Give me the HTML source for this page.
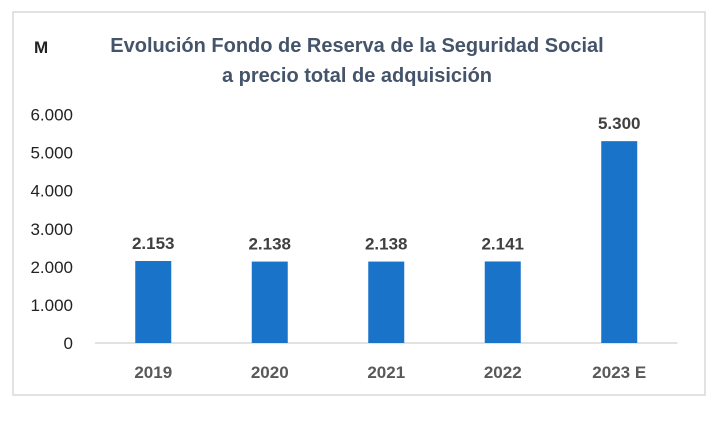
<!DOCTYPE html>
<html><head><meta charset="utf-8"><style>
body{margin:0;background:#fff;width:720px;height:416px;overflow:hidden;font-family:"Liberation Sans",sans-serif}
</style></head><body>
<svg width="720" height="416" xmlns="http://www.w3.org/2000/svg">
<rect x="13" y="12" width="692" height="383" fill="#fff" stroke="#d9d9d9" stroke-width="1.5"/>
<text x="34" y="53" font-size="17" font-weight="bold" fill="#222">M</text>
<text x="357" y="52" text-anchor="middle" font-size="20" font-weight="bold" fill="#44546a">Evolución Fondo de Reserva de la Seguridad Social</text>
<text x="357" y="82" text-anchor="middle" font-size="20" font-weight="bold" fill="#44546a">a precio total de adquisición</text>
<g id="g"></g>
</svg>
<script>
const categories=["2019","2020","2021","2022","2023 E"];
const values=[2153,2138,2138,2141,5300];
const valueLabels=["2.153","2.138","2.138","2.141","5.300"];
const ticks=[0,1000,2000,3000,4000,5000,6000];
const tickLabels=["0","1.000","2.000","3.000","4.000","5.000","6.000"];
const NS="http://www.w3.org/2000/svg",g=document.getElementById('g');
const x0=95,band=116.5,y0=343,yMax=6000,h=228.5;
const y=v=>y0-v/yMax*h, xc=i=>x0+band*(i+0.5);
function mk(t,a,txt){const e=document.createElementNS(NS,t);for(const k in a)e.setAttribute(k,a[k]);if(txt!=null)e.textContent=txt;g.appendChild(e);return e;}
ticks.forEach((t,i)=>{const e=mk('text',{x:73,y:y(t)+6,'text-anchor':'end','font-size':17,fill:'#222'},tickLabels[i]);

});
const ax=mk('line',{x1:x0,x2:x0+band*5,y1:y0,y2:y0,stroke:'#d9d9d9','stroke-width':1.5});


values.forEach((v,i)=>{
const b=mk('rect',{x:xc(i)-18,y:y(v),width:36,height:y0-y(v),fill:'#1873c9'});


const l=mk('text',{x:xc(i),y:y(v)-12,'text-anchor':'middle','font-size':17,'font-weight':'bold',fill:'#404040'},valueLabels[i]);


const c=mk('text',{x:xc(i),y:378,'text-anchor':'middle','font-size':17,'font-weight':'bold',fill:'#595959'},categories[i]);


});
</script>
</body></html>
